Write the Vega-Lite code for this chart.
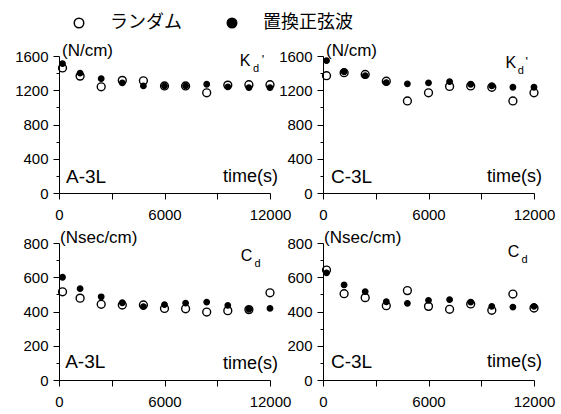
{
  "$schema": "https://vega.github.io/schema/vega-lite/v6.json",
  "padding": {"left": 14, "top": 14, "right": 5, "bottom": 5},
  "background": "white",
  "datasets": {
    "pts": [
      {"panel": "AK", "series": "ランダム", "t": 200, "v": 1460},
      {"panel": "AK", "series": "ランダム", "t": 1200, "v": 1365},
      {"panel": "AK", "series": "ランダム", "t": 2400, "v": 1240},
      {"panel": "AK", "series": "ランダム", "t": 3600, "v": 1315},
      {"panel": "AK", "series": "ランダム", "t": 4800, "v": 1310},
      {"panel": "AK", "series": "ランダム", "t": 6000, "v": 1250},
      {"panel": "AK", "series": "ランダム", "t": 7200, "v": 1250},
      {"panel": "AK", "series": "ランダム", "t": 8400, "v": 1170},
      {"panel": "AK", "series": "ランダム", "t": 9600, "v": 1260},
      {"panel": "AK", "series": "ランダム", "t": 10800, "v": 1265},
      {"panel": "AK", "series": "ランダム", "t": 12000, "v": 1265},
      {"panel": "AK", "series": "置換正弦波", "t": 200, "v": 1510},
      {"panel": "AK", "series": "置換正弦波", "t": 1200, "v": 1400},
      {"panel": "AK", "series": "置換正弦波", "t": 2400, "v": 1335},
      {"panel": "AK", "series": "置換正弦波", "t": 3600, "v": 1285},
      {"panel": "AK", "series": "置換正弦波", "t": 4800, "v": 1250},
      {"panel": "AK", "series": "置換正弦波", "t": 6000, "v": 1250},
      {"panel": "AK", "series": "置換正弦波", "t": 7200, "v": 1250},
      {"panel": "AK", "series": "置換正弦波", "t": 8400, "v": 1270},
      {"panel": "AK", "series": "置換正弦波", "t": 9600, "v": 1240},
      {"panel": "AK", "series": "置換正弦波", "t": 10800, "v": 1230},
      {"panel": "AK", "series": "置換正弦波", "t": 12000, "v": 1230},
      {"panel": "CK", "series": "ランダム", "t": 200, "v": 1370},
      {"panel": "CK", "series": "ランダム", "t": 1200, "v": 1405},
      {"panel": "CK", "series": "ランダム", "t": 2400, "v": 1385},
      {"panel": "CK", "series": "ランダム", "t": 3600, "v": 1305},
      {"panel": "CK", "series": "ランダム", "t": 4800, "v": 1075},
      {"panel": "CK", "series": "ランダム", "t": 6000, "v": 1170},
      {"panel": "CK", "series": "ランダム", "t": 7200, "v": 1245},
      {"panel": "CK", "series": "ランダム", "t": 8400, "v": 1250},
      {"panel": "CK", "series": "ランダム", "t": 9600, "v": 1235},
      {"panel": "CK", "series": "ランダム", "t": 10800, "v": 1075},
      {"panel": "CK", "series": "ランダム", "t": 12000, "v": 1170},
      {"panel": "CK", "series": "置換正弦波", "t": 200, "v": 1545},
      {"panel": "CK", "series": "置換正弦波", "t": 1200, "v": 1415},
      {"panel": "CK", "series": "置換正弦波", "t": 2400, "v": 1370},
      {"panel": "CK", "series": "置換正弦波", "t": 3600, "v": 1290},
      {"panel": "CK", "series": "置換正弦波", "t": 4800, "v": 1275},
      {"panel": "CK", "series": "置換正弦波", "t": 6000, "v": 1285},
      {"panel": "CK", "series": "置換正弦波", "t": 7200, "v": 1300},
      {"panel": "CK", "series": "置換正弦波", "t": 8400, "v": 1270},
      {"panel": "CK", "series": "置換正弦波", "t": 9600, "v": 1250},
      {"panel": "CK", "series": "置換正弦波", "t": 10800, "v": 1235},
      {"panel": "CK", "series": "置換正弦波", "t": 12000, "v": 1235},
      {"panel": "AC", "series": "ランダム", "t": 200, "v": 515},
      {"panel": "AC", "series": "ランダム", "t": 1200, "v": 478},
      {"panel": "AC", "series": "ランダム", "t": 2400, "v": 442},
      {"panel": "AC", "series": "ランダム", "t": 3600, "v": 438},
      {"panel": "AC", "series": "ランダム", "t": 4800, "v": 438},
      {"panel": "AC", "series": "ランダム", "t": 6000, "v": 418},
      {"panel": "AC", "series": "ランダム", "t": 7200, "v": 416},
      {"panel": "AC", "series": "ランダム", "t": 8400, "v": 397},
      {"panel": "AC", "series": "ランダム", "t": 9600, "v": 405},
      {"panel": "AC", "series": "ランダム", "t": 10800, "v": 411},
      {"panel": "AC", "series": "ランダム", "t": 12000, "v": 509},
      {"panel": "AC", "series": "置換正弦波", "t": 200, "v": 600},
      {"panel": "AC", "series": "置換正弦波", "t": 1200, "v": 533},
      {"panel": "AC", "series": "置換正弦波", "t": 2400, "v": 486},
      {"panel": "AC", "series": "置換正弦波", "t": 3600, "v": 451},
      {"panel": "AC", "series": "置換正弦波", "t": 4800, "v": 428},
      {"panel": "AC", "series": "置換正弦波", "t": 6000, "v": 440},
      {"panel": "AC", "series": "置換正弦波", "t": 7200, "v": 449},
      {"panel": "AC", "series": "置換正弦波", "t": 8400, "v": 455},
      {"panel": "AC", "series": "置換正弦波", "t": 9600, "v": 436},
      {"panel": "AC", "series": "置換正弦波", "t": 10800, "v": 413},
      {"panel": "AC", "series": "置換正弦波", "t": 12000, "v": 418},
      {"panel": "CC", "series": "ランダム", "t": 200, "v": 642},
      {"panel": "CC", "series": "ランダム", "t": 1200, "v": 504},
      {"panel": "CC", "series": "ランダム", "t": 2400, "v": 481},
      {"panel": "CC", "series": "ランダム", "t": 3600, "v": 434},
      {"panel": "CC", "series": "ランダム", "t": 4800, "v": 522},
      {"panel": "CC", "series": "ランダム", "t": 6000, "v": 430},
      {"panel": "CC", "series": "ランダム", "t": 7200, "v": 413},
      {"panel": "CC", "series": "ランダム", "t": 8400, "v": 444},
      {"panel": "CC", "series": "ランダム", "t": 9600, "v": 407},
      {"panel": "CC", "series": "ランダム", "t": 10800, "v": 502},
      {"panel": "CC", "series": "ランダム", "t": 12000, "v": 420},
      {"panel": "CC", "series": "置換正弦波", "t": 200, "v": 625},
      {"panel": "CC", "series": "置換正弦波", "t": 1200, "v": 555},
      {"panel": "CC", "series": "置換正弦波", "t": 2400, "v": 516},
      {"panel": "CC", "series": "置換正弦波", "t": 3600, "v": 457},
      {"panel": "CC", "series": "置換正弦波", "t": 4800, "v": 448},
      {"panel": "CC", "series": "置換正弦波", "t": 6000, "v": 465},
      {"panel": "CC", "series": "置換正弦波", "t": 7200, "v": 469},
      {"panel": "CC", "series": "置換正弦波", "t": 8400, "v": 455},
      {"panel": "CC", "series": "置換正弦波", "t": 9600, "v": 430},
      {"panel": "CC", "series": "置換正弦波", "t": 10800, "v": 426},
      {"panel": "CC", "series": "置換正弦波", "t": 12000, "v": 430}
    ],
    "ann": [
      {"panel": "AK", "role": "unit", "text": "(N/cm)", "t": 0, "v": 1600},
      {"panel": "AK", "role": "sym", "text": "K", "t": 10580, "v": 1542},
      {"panel": "AK", "role": "sub", "text": "d", "t": 10580, "v": 1542},
      {"panel": "AK", "role": "prime", "text": "'", "t": 10580, "v": 1542},
      {"panel": "AK", "role": "name", "text": "A-3L", "t": 400, "v": 190},
      {"panel": "AK", "role": "time", "text": "time(s)", "t": 12000, "v": 190},
      {"panel": "CK", "role": "unit", "text": "(N/cm)", "t": 0, "v": 1600},
      {"panel": "CK", "role": "sym", "text": "K", "t": 10680, "v": 1524},
      {"panel": "CK", "role": "sub", "text": "d", "t": 10680, "v": 1524},
      {"panel": "CK", "role": "prime", "text": "'", "t": 10680, "v": 1524},
      {"panel": "CK", "role": "name", "text": "C-3L", "t": 450, "v": 190},
      {"panel": "CK", "role": "time", "text": "time(s)", "t": 12000, "v": 190},
      {"panel": "AC", "role": "unit", "text": "(Nsec/cm)", "t": 0, "v": 800},
      {"panel": "AC", "role": "sym", "text": "C", "t": 10660, "v": 727},
      {"panel": "AC", "role": "sub", "text": "d", "t": 10660, "v": 727},
      {"panel": "AC", "role": "name", "text": "A-3L", "t": 350, "v": 103},
      {"panel": "AC", "role": "time", "text": "time(s)", "t": 12000, "v": 93},
      {"panel": "CC", "role": "unit", "text": "(Nsec/cm)", "t": 0, "v": 800},
      {"panel": "CC", "role": "sym", "text": "C", "t": 10840, "v": 745},
      {"panel": "CC", "role": "sub", "text": "d", "t": 10840, "v": 745},
      {"panel": "CC", "role": "name", "text": "C-3L", "t": 450, "v": 105},
      {"panel": "CC", "role": "time", "text": "time(s)", "t": 12000, "v": 103}
    ]
  },
  "columns": 2,
  "spacing": {"row": 50, "column": 53},
  "bounds": "flush",
  "resolve": {"scale": {"fill": "shared"}, "legend": {"fill": "shared"}},
  "concat": [
    {
      "width": 211, "height": 137,
      "encoding": {
        "x": {"field": "t", "type": "quantitative", "scale": {"domain": [0, 12000], "nice": false, "zero": false}, "axis": {"values": [0, 3000, 6000, 9000, 12000], "labelExpr": "datum.value % 6000 === 0 ? '' + datum.value : ''", "labelFlush": false, "labelOverlap": false, "labelPadding": 8}},
        "y": {"field": "v", "type": "quantitative", "scale": {"domain": [0, 1600], "nice": false}, "axis": {"values": [0, 200, 400, 600, 800, 1000, 1200, 1400, 1600], "labelExpr": "datum.value % 400 === 0 ? '' + datum.value : ''", "labelOverlap": false, "tickSize": {"condition": {"test": "datum.value % 400 === 0", "value": 6}, "value": 3}}}
      },
      "layer": [
        {"data": {"name": "pts"}, "transform": [{"filter": "datum.panel === 'AK' && datum.series === 'ランダム'"}],
         "mark": {"type": "circle", "stroke": "black", "strokeWidth": 1.4, "opacity": 1, "size": 62},
         "encoding": {"fill": {"field": "series", "type": "nominal", "scale": {"domain": ["ランダム", "置換正弦波"], "range": ["transparent", "black"]}, "legend": {"title": null, "orient": "none", "legendX": 11, "legendY": -42, "direction": "horizontal", "labelFont": "Noto Sans CJK JP", "labelFontSize": 18, "labelColor": "black", "symbolSize": 90, "symbolType": "circle", "symbolStrokeColor": "black", "symbolStrokeWidth": 1.5, "labelOffset": 22, "columnPadding": 41, "padding": 0}}}},
        {"data": {"name": "pts"}, "transform": [{"filter": "datum.panel === 'AK' && datum.series === '置換正弦波'"}],
         "mark": {"type": "circle", "stroke": "black", "strokeWidth": 1.4, "opacity": 1, "size": 29},
         "encoding": {"fill": {"field": "series", "type": "nominal", "scale": {"domain": ["ランダム", "置換正弦波"], "range": ["transparent", "black"]}, "legend": {"title": null, "orient": "none", "legendX": 11, "legendY": -42, "direction": "horizontal", "labelFont": "Noto Sans CJK JP", "labelFontSize": 18, "labelColor": "black", "symbolSize": 90, "symbolType": "circle", "symbolStrokeColor": "black", "symbolStrokeWidth": 1.5, "labelOffset": 22, "columnPadding": 41, "padding": 0}}}},
        {"data": {"name": "ann"}, "transform": [{"filter": "datum.panel === 'AK' && datum.role === 'unit'"}],
         "mark": {"type": "text", "align": "left", "baseline": "middle", "dx": 3, "dy": -5, "fontSize": 17}, "encoding": {"text": {"field": "text"}}},
        {"data": {"name": "ann"}, "transform": [{"filter": "datum.panel === 'AK' && datum.role === 'sym'"}],
         "mark": {"type": "text", "align": "center", "baseline": "middle", "fontSize": 16}, "encoding": {"text": {"field": "text"}}},
        {"data": {"name": "ann"}, "transform": [{"filter": "datum.panel === 'AK' && datum.role === 'sub'"}],
         "mark": {"type": "text", "align": "center", "baseline": "middle", "fontSize": 11, "dx": 11, "dy": 8}, "encoding": {"text": {"field": "text"}}},
        {"data": {"name": "ann"}, "transform": [{"filter": "datum.panel === 'AK' && datum.role === 'prime'"}],
         "mark": {"type": "text", "align": "center", "baseline": "middle", "fontSize": 13, "dx": 18, "dy": -1}, "encoding": {"text": {"field": "text"}}},
        {"data": {"name": "ann"}, "transform": [{"filter": "datum.panel === 'AK' && datum.role === 'name'"}],
         "mark": {"type": "text", "align": "left", "baseline": "middle", "fontSize": 19}, "encoding": {"text": {"field": "text"}}},
        {"data": {"name": "ann"}, "transform": [{"filter": "datum.panel === 'AK' && datum.role === 'time'"}],
         "mark": {"type": "text", "align": "right", "baseline": "middle", "fontSize": 18, "dx": 8}, "encoding": {"text": {"field": "text"}}}
      ]
    },
    {
      "width": 211, "height": 137,
      "encoding": {
        "x": {"field": "t", "type": "quantitative", "scale": {"domain": [0, 12000], "nice": false, "zero": false}, "axis": {"values": [0, 3000, 6000, 9000, 12000], "labelExpr": "datum.value % 6000 === 0 ? '' + datum.value : ''", "labelFlush": false, "labelOverlap": false, "labelPadding": 8}},
        "y": {"field": "v", "type": "quantitative", "scale": {"domain": [0, 1600], "nice": false}, "axis": {"values": [0, 200, 400, 600, 800, 1000, 1200, 1400, 1600], "labelExpr": "datum.value % 400 === 0 ? '' + datum.value : ''", "labelOverlap": false, "tickSize": {"condition": {"test": "datum.value % 400 === 0", "value": 6}, "value": 3}}}
      },
      "layer": [
        {"data": {"name": "pts"}, "transform": [{"filter": "datum.panel === 'CK' && datum.series === 'ランダム'"}],
         "mark": {"type": "circle", "stroke": "black", "strokeWidth": 1.4, "opacity": 1, "size": 62},
         "encoding": {"fill": {"field": "series", "type": "nominal", "scale": {"domain": ["ランダム", "置換正弦波"], "range": ["transparent", "black"]}, "legend": {"title": null, "orient": "none", "legendX": 11, "legendY": -42, "direction": "horizontal", "labelFont": "Noto Sans CJK JP", "labelFontSize": 18, "labelColor": "black", "symbolSize": 90, "symbolType": "circle", "symbolStrokeColor": "black", "symbolStrokeWidth": 1.5, "labelOffset": 22, "columnPadding": 41, "padding": 0}}}},
        {"data": {"name": "pts"}, "transform": [{"filter": "datum.panel === 'CK' && datum.series === '置換正弦波'"}],
         "mark": {"type": "circle", "stroke": "black", "strokeWidth": 1.4, "opacity": 1, "size": 29},
         "encoding": {"fill": {"field": "series", "type": "nominal", "scale": {"domain": ["ランダム", "置換正弦波"], "range": ["transparent", "black"]}, "legend": {"title": null, "orient": "none", "legendX": 11, "legendY": -42, "direction": "horizontal", "labelFont": "Noto Sans CJK JP", "labelFontSize": 18, "labelColor": "black", "symbolSize": 90, "symbolType": "circle", "symbolStrokeColor": "black", "symbolStrokeWidth": 1.5, "labelOffset": 22, "columnPadding": 41, "padding": 0}}}},
        {"data": {"name": "ann"}, "transform": [{"filter": "datum.panel === 'CK' && datum.role === 'unit'"}],
         "mark": {"type": "text", "align": "left", "baseline": "middle", "dx": 3, "dy": -5, "fontSize": 17}, "encoding": {"text": {"field": "text"}}},
        {"data": {"name": "ann"}, "transform": [{"filter": "datum.panel === 'CK' && datum.role === 'sym'"}],
         "mark": {"type": "text", "align": "center", "baseline": "middle", "fontSize": 16}, "encoding": {"text": {"field": "text"}}},
        {"data": {"name": "ann"}, "transform": [{"filter": "datum.panel === 'CK' && datum.role === 'sub'"}],
         "mark": {"type": "text", "align": "center", "baseline": "middle", "fontSize": 11, "dx": 10, "dy": 8}, "encoding": {"text": {"field": "text"}}},
        {"data": {"name": "ann"}, "transform": [{"filter": "datum.panel === 'CK' && datum.role === 'prime'"}],
         "mark": {"type": "text", "align": "center", "baseline": "middle", "fontSize": 13, "dx": 16, "dy": -1}, "encoding": {"text": {"field": "text"}}},
        {"data": {"name": "ann"}, "transform": [{"filter": "datum.panel === 'CK' && datum.role === 'name'"}],
         "mark": {"type": "text", "align": "left", "baseline": "middle", "fontSize": 19}, "encoding": {"text": {"field": "text"}}},
        {"data": {"name": "ann"}, "transform": [{"filter": "datum.panel === 'CK' && datum.role === 'time'"}],
         "mark": {"type": "text", "align": "right", "baseline": "middle", "fontSize": 18, "dx": 8}, "encoding": {"text": {"field": "text"}}}
      ]
    },
    {
      "width": 211, "height": 137,
      "encoding": {
        "x": {"field": "t", "type": "quantitative", "scale": {"domain": [0, 12000], "nice": false, "zero": false}, "axis": {"values": [0, 3000, 6000, 9000, 12000], "labelExpr": "datum.value % 6000 === 0 ? '' + datum.value : ''", "labelFlush": false, "labelOverlap": false, "labelPadding": 8}},
        "y": {"field": "v", "type": "quantitative", "scale": {"domain": [0, 800], "nice": false}, "axis": {"values": [0, 100, 200, 300, 400, 500, 600, 700, 800], "labelExpr": "datum.value % 200 === 0 ? '' + datum.value : ''", "labelOverlap": false, "tickSize": {"condition": {"test": "datum.value % 200 === 0", "value": 6}, "value": 3}}}
      },
      "layer": [
        {"data": {"name": "pts"}, "transform": [{"filter": "datum.panel === 'AC' && datum.series === 'ランダム'"}],
         "mark": {"type": "circle", "stroke": "black", "strokeWidth": 1.4, "opacity": 1, "size": 62},
         "encoding": {"fill": {"field": "series", "type": "nominal", "scale": {"domain": ["ランダム", "置換正弦波"], "range": ["transparent", "black"]}, "legend": {"title": null, "orient": "none", "legendX": 11, "legendY": -42, "direction": "horizontal", "labelFont": "Noto Sans CJK JP", "labelFontSize": 18, "labelColor": "black", "symbolSize": 90, "symbolType": "circle", "symbolStrokeColor": "black", "symbolStrokeWidth": 1.5, "labelOffset": 22, "columnPadding": 41, "padding": 0}}}},
        {"data": {"name": "pts"}, "transform": [{"filter": "datum.panel === 'AC' && datum.series === '置換正弦波'"}],
         "mark": {"type": "circle", "stroke": "black", "strokeWidth": 1.4, "opacity": 1, "size": 29},
         "encoding": {"fill": {"field": "series", "type": "nominal", "scale": {"domain": ["ランダム", "置換正弦波"], "range": ["transparent", "black"]}, "legend": {"title": null, "orient": "none", "legendX": 11, "legendY": -42, "direction": "horizontal", "labelFont": "Noto Sans CJK JP", "labelFontSize": 18, "labelColor": "black", "symbolSize": 90, "symbolType": "circle", "symbolStrokeColor": "black", "symbolStrokeWidth": 1.5, "labelOffset": 22, "columnPadding": 41, "padding": 0}}}},
        {"data": {"name": "ann"}, "transform": [{"filter": "datum.panel === 'AC' && datum.role === 'unit'"}],
         "mark": {"type": "text", "align": "left", "baseline": "middle", "dx": 1, "dy": -5, "fontSize": 17}, "encoding": {"text": {"field": "text"}}},
        {"data": {"name": "ann"}, "transform": [{"filter": "datum.panel === 'AC' && datum.role === 'sym'"}],
         "mark": {"type": "text", "align": "center", "baseline": "middle", "fontSize": 16}, "encoding": {"text": {"field": "text"}}},
        {"data": {"name": "ann"}, "transform": [{"filter": "datum.panel === 'AC' && datum.role === 'sub'"}],
         "mark": {"type": "text", "align": "center", "baseline": "middle", "fontSize": 11, "dx": 11, "dy": 8}, "encoding": {"text": {"field": "text"}}},
        {"data": {"name": "ann"}, "transform": [{"filter": "datum.panel === 'AC' && datum.role === 'name'"}],
         "mark": {"type": "text", "align": "left", "baseline": "middle", "fontSize": 19}, "encoding": {"text": {"field": "text"}}},
        {"data": {"name": "ann"}, "transform": [{"filter": "datum.panel === 'AC' && datum.role === 'time'"}],
         "mark": {"type": "text", "align": "right", "baseline": "middle", "fontSize": 18, "dx": 8}, "encoding": {"text": {"field": "text"}}}
      ]
    },
    {
      "width": 211, "height": 137,
      "encoding": {
        "x": {"field": "t", "type": "quantitative", "scale": {"domain": [0, 12000], "nice": false, "zero": false}, "axis": {"values": [0, 3000, 6000, 9000, 12000], "labelExpr": "datum.value % 6000 === 0 ? '' + datum.value : ''", "labelFlush": false, "labelOverlap": false, "labelPadding": 8}},
        "y": {"field": "v", "type": "quantitative", "scale": {"domain": [0, 800], "nice": false}, "axis": {"values": [0, 100, 200, 300, 400, 500, 600, 700, 800], "labelExpr": "datum.value % 200 === 0 ? '' + datum.value : ''", "labelOverlap": false, "tickSize": {"condition": {"test": "datum.value % 200 === 0", "value": 6}, "value": 3}}}
      },
      "layer": [
        {"data": {"name": "pts"}, "transform": [{"filter": "datum.panel === 'CC' && datum.series === 'ランダム'"}],
         "mark": {"type": "circle", "stroke": "black", "strokeWidth": 1.4, "opacity": 1, "size": 62},
         "encoding": {"fill": {"field": "series", "type": "nominal", "scale": {"domain": ["ランダム", "置換正弦波"], "range": ["transparent", "black"]}, "legend": {"title": null, "orient": "none", "legendX": 11, "legendY": -42, "direction": "horizontal", "labelFont": "Noto Sans CJK JP", "labelFontSize": 18, "labelColor": "black", "symbolSize": 90, "symbolType": "circle", "symbolStrokeColor": "black", "symbolStrokeWidth": 1.5, "labelOffset": 22, "columnPadding": 41, "padding": 0}}}},
        {"data": {"name": "pts"}, "transform": [{"filter": "datum.panel === 'CC' && datum.series === '置換正弦波'"}],
         "mark": {"type": "circle", "stroke": "black", "strokeWidth": 1.4, "opacity": 1, "size": 29},
         "encoding": {"fill": {"field": "series", "type": "nominal", "scale": {"domain": ["ランダム", "置換正弦波"], "range": ["transparent", "black"]}, "legend": {"title": null, "orient": "none", "legendX": 11, "legendY": -42, "direction": "horizontal", "labelFont": "Noto Sans CJK JP", "labelFontSize": 18, "labelColor": "black", "symbolSize": 90, "symbolType": "circle", "symbolStrokeColor": "black", "symbolStrokeWidth": 1.5, "labelOffset": 22, "columnPadding": 41, "padding": 0}}}},
        {"data": {"name": "ann"}, "transform": [{"filter": "datum.panel === 'CC' && datum.role === 'unit'"}],
         "mark": {"type": "text", "align": "left", "baseline": "middle", "dx": 1, "dy": -5, "fontSize": 17}, "encoding": {"text": {"field": "text"}}},
        {"data": {"name": "ann"}, "transform": [{"filter": "datum.panel === 'CC' && datum.role === 'sym'"}],
         "mark": {"type": "text", "align": "center", "baseline": "middle", "fontSize": 16}, "encoding": {"text": {"field": "text"}}},
        {"data": {"name": "ann"}, "transform": [{"filter": "datum.panel === 'CC' && datum.role === 'sub'"}],
         "mark": {"type": "text", "align": "center", "baseline": "middle", "fontSize": 11, "dx": 11, "dy": 8}, "encoding": {"text": {"field": "text"}}},
        {"data": {"name": "ann"}, "transform": [{"filter": "datum.panel === 'CC' && datum.role === 'name'"}],
         "mark": {"type": "text", "align": "left", "baseline": "middle", "fontSize": 19}, "encoding": {"text": {"field": "text"}}},
        {"data": {"name": "ann"}, "transform": [{"filter": "datum.panel === 'CC' && datum.role === 'time'"}],
         "mark": {"type": "text", "align": "right", "baseline": "middle", "fontSize": 18, "dx": 8}, "encoding": {"text": {"field": "text"}}}
      ]
    }
  ],
  "config": {
    "font": "Liberation Sans",
    "view": {"stroke": null},
    "text": {"font": "Liberation Sans", "color": "black"},
    "axis": {"grid": false, "title": null, "domainColor": "black", "domainWidth": 1, "tickColor": "black", "tickWidth": 1, "tickSize": 6, "labelColor": "black", "labelFont": "Liberation Sans", "labelFontSize": 15, "labelPadding": 5, "labelOverlap": false}
  }
}
